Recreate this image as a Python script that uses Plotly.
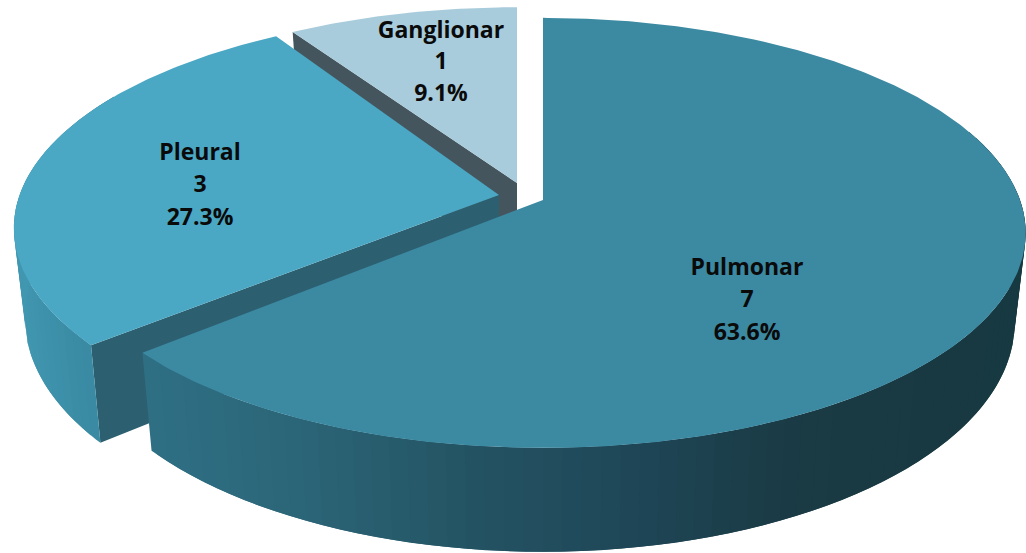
import math
import plotly.graph_objects as go

categories = ["Pulmonar", "Pleural", "Ganglionar"]
values = [7, 3, 1]

top_colors = ["#3C89A2", "#4AA8C4", "#A8CCDB"]
cut_colors = ["#2C6274", "#2C5F70", "#45555E"]
# apex position, scale and small rotation of each exploded slice
apex = [(543, 200), (499, 195), (517, 183)]
scale = [1.0, 1.005, 0.96]
x_scale = [1.0, 1.0, 1.018]
rot = [0.0, 1.0, 0.0]

RX, RY, P, DEPTH, SHRINK = 477, 210, 0.153, 88, 0.977
W, H = 1026, 553


def proj(deg, i):
    a = math.radians(deg + rot[i])
    X, Y = math.sin(a) * scale[i], math.cos(a) * scale[i]
    w = 1 + P * Y
    ax, ay = apex[i]
    return ax + RX * x_scale[i] * X / w, ay - RY * Y / w, DEPTH / w


def top_pt(deg, i):
    x, y, _ = proj(deg, i)
    return x, y


def bot_pt(deg, i):
    x, y, d = proj(deg, i)
    return apex[i][0] + (x - apex[i][0]) * SHRINK, y + d


def hexrgb(h):
    return tuple(int(h[k:k + 2], 16) for k in (1, 3, 5))


def ramp(x, stops):
    for (x0, c0), (x1, c1) in zip(stops, stops[1:]):
        if x <= x1:
            t = max(0, (x - x0) / (x1 - x0))
            a, b = hexrgb(c0), hexrgb(c1)
            return "rgb(%d,%d,%d)" % tuple(round(a[k] + (b[k] - a[k]) * t) for k in range(3))
    return stops[-1][1]


pulm_ramp = [(140, "#2F7085"), (300, "#2B6577"), (450, "#245565"), (620, "#1F4758"), (800, "#1A3A44"), (1030, "#173941")]
pleu_ramp = [(10, "#4298B1"), (100, "#37879F")]


def poly(fig, xs, ys, color):
    fig.add_trace(go.Scatter(x=xs, y=ys, mode="lines", fill="toself", fillcolor=color,
                             line=dict(width=0), hoverinfo="skip", showlegend=False))


def sector_top(i, a0, a1):
    n = max(8, int((a1 - a0) * 1.5))
    pts = [apex[i]] + [top_pt(a0 + (a1 - a0) * k / n, i) for k in range(n + 1)]
    return [p[0] for p in pts] + [pts[0][0]], [p[1] for p in pts] + [pts[0][1]]


def cut_wall(i, deg):
    x0, y0 = top_pt(deg, i)
    x1, y1 = bot_pt(deg, i)
    ax, ay = apex[i]
    return [ax, x0, x1, ax, ax], [ay, y0, y1, ay + DEPTH, ay]


def outer_wall(i, a0, a1, stops):
    step = 2.0
    n = int((a1 - a0) / step)
    order = [a0 + step * k for k in range(n)]
    for a in order:
        b = min(a + 2 * step, a1)
        t = [top_pt(a + (b - a) * k / 4, i) for k in range(5)]
        u = [bot_pt(a + (b - a) * k / 4, i) for k in range(5)]
        pts = t + u[::-1] + [t[0]]
        poly(fig, [p[0] for p in pts], [p[1] for p in pts], ramp(top_pt(a + step / 2, i)[0], stops))


fig = go.Figure()
total = sum(values)
angles = []
acc = 0
for v in values:
    angles.append((acc / total * 360, (acc + v) / total * 360))
    acc += v

# Ganglionar (back)
a0, a1 = angles[2]
xs, ys = cut_wall(2, a0)
poly(fig, xs, ys, cut_colors[2])
xs, ys = sector_top(2, a0, a1)
poly(fig, xs, ys, top_colors[2])

# Pleural
a0, a1 = angles[1]
xs, ys = cut_wall(1, a0)
poly(fig, xs, ys, cut_colors[1])
outer_wall(1, a0, a0 + 70, pleu_ramp)
xs, ys = sector_top(1, a0, a1)
poly(fig, xs, ys, top_colors[1])

# Pulmonar (front)
a0, a1 = angles[0]
outer_wall(0, 70, a1, pulm_ramp)
xs, ys = sector_top(0, a0, a1)
poly(fig, xs, ys, top_colors[0])

# Labels: one text point per line, centred on each slice's label anchor
label_x = [747, 200, 441]
label_y = [269, 154, 32]
line_gap = [32.5, 32.5, 31.5]
tx, ty, tt = [], [], []
for i, c in enumerate(categories):
    lines = [c, str(values[i]), "%.1f%%" % (values[i] / total * 100)]
    for k, s in enumerate(lines):
        tx.append(label_x[i])
        ty.append(label_y[i] + k * line_gap[i])
        tt.append("<b>%s</b>" % s)
fig.add_trace(go.Scatter(x=tx, y=ty, mode="text", text=tt, textposition="middle center",
                         textfont=dict(family="Open Sans, sans-serif", size=23, color="#0A0A0A"),
                         hoverinfo="skip", showlegend=False, cliponaxis=False))

fig.update_layout(width=W, height=H, margin=dict(l=0, r=0, t=0, b=0), autosize=False,
                  paper_bgcolor="white", plot_bgcolor="white", showlegend=False,
                  xaxis=dict(range=[0, W], visible=False, fixedrange=True),
                  yaxis=dict(range=[H, 0], visible=False, fixedrange=True))
fig.write_html("out.html", config={"displayModeBar": False},
               post_script="document.body.style.margin='0';document.body.style.overflow='hidden';")
